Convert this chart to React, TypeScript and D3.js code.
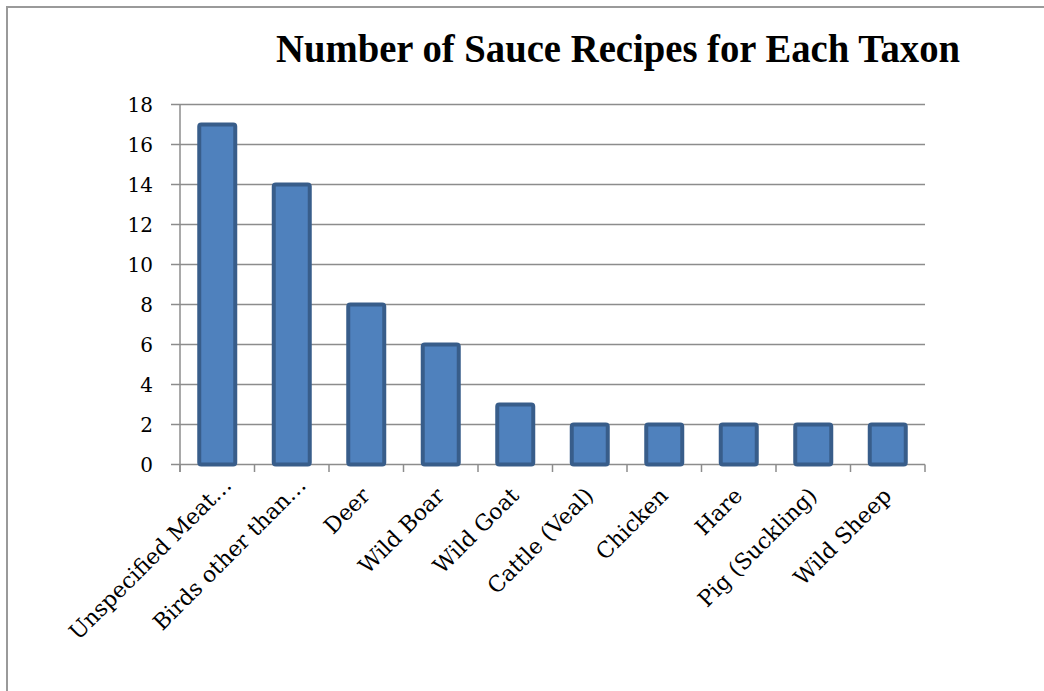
import React from "react";
import * as d3 from "d3";

const categories = [
  "Unspecified Meat…",
  "Birds other than…",
  "Deer",
  "Wild Boar",
  "Wild Goat",
  "Cattle (Veal)",
  "Chicken",
  "Hare",
  "Pig (Suckling)",
  "Wild Sheep",
];
const values = [17, 14, 8, 6, 3, 2, 2, 2, 2, 2];
const yTicks = [0, 2, 4, 6, 8, 10, 12, 14, 16, 18];
const title = "Number of Sauce Recipes for Each Taxon";

export default function App() {
  const W = 1044;
  const H = 691;
  const left = 180;
  const right = 925;
  const top = 104.5;
  const bottom = 464.5;

  const x = d3.scaleBand<string>().domain(categories).range([left, right]).paddingInner(0).paddingOuter(0);
  const y = d3.scaleLinear().domain([0, 18]).range([bottom, top]);
  const bw = x.bandwidth();
  const barW = 36;
  const font = "'DejaVu Serif', 'Liberation Serif', serif";
  const titleFont = "'Liberation Serif', 'DejaVu Serif', serif";

  return (
    <svg
      width={W}
      height={H}
      style={{ position: "fixed", left: 0, top: 0, background: "#fff" }}
    >
      <rect x={0} y={0} width={W} height={H} fill="#fff" />
      <rect x={7} y={7} width={1100} height={800} fill="none" stroke="#9a9a9a" strokeWidth={2} />
      <text
        x={276}
        y={62}
        fontFamily={titleFont}
        fontWeight="bold"
        fontSize={40}
        textLength={684}
        lengthAdjust="spacingAndGlyphs"
        fill="#000"
      >
        {title}
      </text>

      {/* gridlines and y ticks */}
      {yTicks.map((t) => (
        <g key={t}>
          <line x1={171} x2={right} y1={y(t)} y2={y(t)} stroke="#8c8c8c" strokeWidth={1.5} />
          <text
            x={153}
            y={y(t)}
            dy="0.36em"
            textAnchor="end"
            fontFamily={font}
            fontSize={20}
            fill="#000"
          >
            {t}
          </text>
        </g>
      ))}

      {/* y axis */}
      <line x1={left} x2={left} y1={top} y2={bottom + 7.5} stroke="#8c8c8c" strokeWidth={1.5} />
      {/* x ticks */}
      {d3.range(categories.length + 1).map((i) => (
        <line
          key={i}
          x1={left + i * bw}
          x2={left + i * bw}
          y1={bottom}
          y2={bottom + 7.5}
          stroke="#8c8c8c"
          strokeWidth={1.5}
        />
      ))}

      {/* bars */}
      {categories.map((c, i) => {
        const cx = (x(c) as number) + bw / 2;
        return (
          <rect
            key={c}
            x={cx - barW / 2}
            y={y(values[i])}
            width={barW}
            height={bottom - y(values[i])}
            rx={2}
            fill="#4f81bd"
            stroke="#385d8a"
            strokeWidth={4}
          />
        );
      })}

      {/* x labels */}
      {categories.map((c) => {
        const cx = (x(c) as number) + bw / 2 + 5;
        const ly = 497;
        const truncated = c.endsWith("…");
        return (
          <text
            key={c}
            x={cx}
            y={ly}
            dx={truncated ? 15 : 0}
            transform={`rotate(-45, ${cx}, ${ly})`}
            textAnchor="end"
            fontFamily={font}
            fontSize={22}
            fill="#000"
          >
            {c}
          </text>
        );
      })}
    </svg>
  );
}
